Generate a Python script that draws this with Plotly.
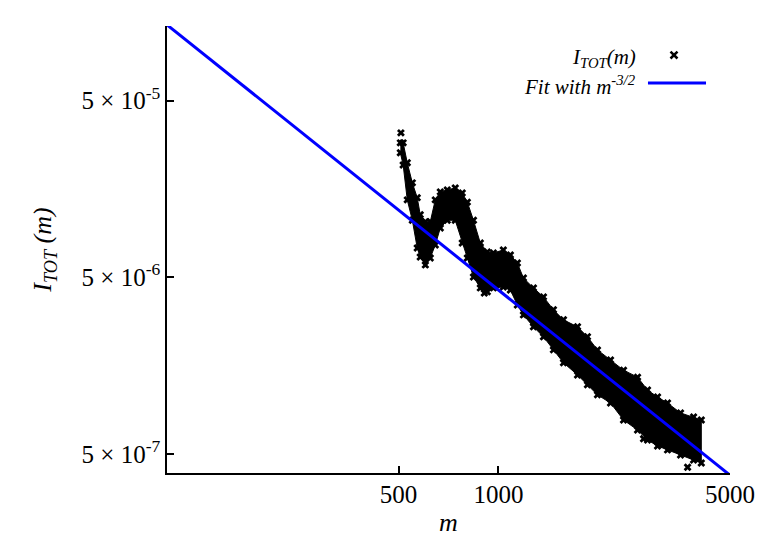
import plotly.graph_objects as go

# ---- data ----
m_vals = [506, 516, 531, 550, 569, 581, 602, 623, 645, 668, 701, 741, 778, 806, 841,
          882, 926, 966, 1035, 1087, 1141, 1190, 1276, 1368, 1466, 1572, 1733, 1857,
          1991, 2180, 2386, 2630, 2819, 3022, 3239, 3546, 3882, 4096]
itot_upper = [2.88e-5, 2.88e-5, 2.22e-5, 1.71e-5, 1.41e-5, 1.13e-5, 1.03e-5, 1.03e-5,
              1.37e-5, 1.52e-5, 1.56e-5, 1.60e-5, 1.50e-5, 1.33e-5, 1.05e-5, 7.81e-6,
              6.95e-6, 6.86e-6, 7.13e-6, 6.68e-6, 6.02e-6, 4.95e-6, 4.35e-6, 3.87e-6,
              3.27e-6, 2.87e-6, 2.62e-6, 2.30e-6, 1.94e-6, 1.70e-6, 1.49e-6, 1.36e-6,
              1.15e-6, 1.05e-6, 9.71e-7, 8.53e-7, 8.09e-7, 7.78e-7]
itot_lower = [2.53e-5, 2.16e-5, 1.37e-5, 1.05e-5, 7.32e-6, 6.51e-6, 5.87e-6, 6.43e-6,
              7.61e-6, 9.50e-6, 1.05e-5, 1.05e-5, 7.81e-6, 6.43e-6, 5.02e-6, 4.35e-6,
              4.13e-6, 4.35e-6, 4.40e-6, 4.23e-6, 3.48e-6, 3.06e-6, 2.62e-6, 2.30e-6,
              1.94e-6, 1.64e-6, 1.40e-6, 1.23e-6, 1.08e-6, 9.71e-7, 7.78e-7, 6.83e-7,
              6.00e-7, 5.55e-7, 5.27e-7, 4.93e-7, 4.62e-7, 4.44e-7]
outlier_m = [508, 907, 2742, 3724]
outlier_v = [3.28e-5, 4.07e-6, 6.1e-7, 4.2e-7]

fit_m = [100, 5000]
fit_v = [1.34e-4, 3.79e-7]

x_ticks = [500, 1000, 5000]
x_ticktext = ["500", "1000", "5000"]
y_ticks = [5e-7, 5e-6, 5e-5]
y_ticktext = ["5 \u00d7 10<sup>-7</sup>", "5 \u00d7 10<sup>-6</sup>", "5 \u00d7 10<sup>-5</sup>"]

FONT = "Liberation Serif"

fig = go.Figure()

# dense band of the scatter cloud
fig.add_trace(go.Scatter(
    x=m_vals + m_vals[::-1], y=itot_upper + itot_lower[::-1],
    mode="lines", fill="toself", fillcolor="black",
    line=dict(color="black", width=1), hoverinfo="skip", showlegend=False))

# cross markers of I_TOT(m)
fig.add_trace(go.Scatter(
    x=m_vals + m_vals + outlier_m, y=itot_upper + itot_lower + outlier_v,
    mode="markers", name="I_TOT(m)",
    marker=dict(symbol="x", size=7, color="black", line=dict(width=0)),
    showlegend=False))

# fit line
fig.add_trace(go.Scatter(
    x=fit_m, y=fit_v, mode="lines", name="Fit with m^-3/2",
    line=dict(color="#0000ff", width=3), showlegend=False))

axis_common = dict(
    showline=True, linecolor="black", linewidth=1.5, mirror=False,
    ticks="inside", ticklen=7, tickwidth=1.5, tickcolor="black",
    showgrid=False, zeroline=False, automargin=False,
    tickfont=dict(family=FONT, size=25, color="black"),
)

fig.update_xaxes(type="log", range=[2, 3.69897], tickvals=x_ticks, ticktext=x_ticktext,
                 ticklabelstandoff=-2,
                 title=dict(text="<i>m</i>", font=dict(family=FONT, size=26, color="black"),
                            standoff=15),
                 **axis_common)
fig.update_yaxes(type="log", range=[-6.4089, -3.8794], tickvals=y_ticks, ticktext=y_ticktext,
                 title=dict(text="<i>I<sub>TOT</sub> (m)</i>",
                            font=dict(family=FONT, size=26, color="black"), standoff=22),
                 **axis_common)

# manual gnuplot-style key (text left, sample right)
fig.add_annotation(xref="paper", yref="paper", x=0.836, y=0.928, xanchor="right",
                   yanchor="middle", showarrow=False,
                   text="<i>I<sub>TOT</sub>(m)</i>",
                   font=dict(family=FONT, size=21, color="black"))
fig.add_annotation(xref="paper", yref="paper", x=0.836, y=0.866, xanchor="right",
                   yanchor="middle", showarrow=False,
                   text="<i>Fit with m<sup>-3/2</sup></i>",
                   font=dict(family=FONT, size=21, color="black"))
# key samples
cx, cy, d = 0.9005, 0.9351, 0.0062
fig.add_shape(type="line", xref="paper", yref="paper", x0=cx - d, x1=cx + d,
              y0=cy - d * 563 / 447, y1=cy + d * 563 / 447, line=dict(color="black", width=2.5))
fig.add_shape(type="line", xref="paper", yref="paper", x0=cx - d, x1=cx + d,
              y0=cy + d * 563 / 447, y1=cy - d * 563 / 447, line=dict(color="black", width=2.5))
fig.add_shape(type="line", xref="paper", yref="paper", x0=0.8543, x1=0.9574,
              y0=0.8725, y1=0.8725, line=dict(color="#0000ff", width=3))

# page has an 8px body margin; size the figure so the plot area lands where the reference has it
fig.update_layout(
    width=747, height=529,
    margin=dict(l=159, r=25, t=18, b=64, autoexpand=False),
    paper_bgcolor="white", plot_bgcolor="white",
    font=dict(family=FONT, color="black"),
    showlegend=False,
)

fig.write_html("out.html")
